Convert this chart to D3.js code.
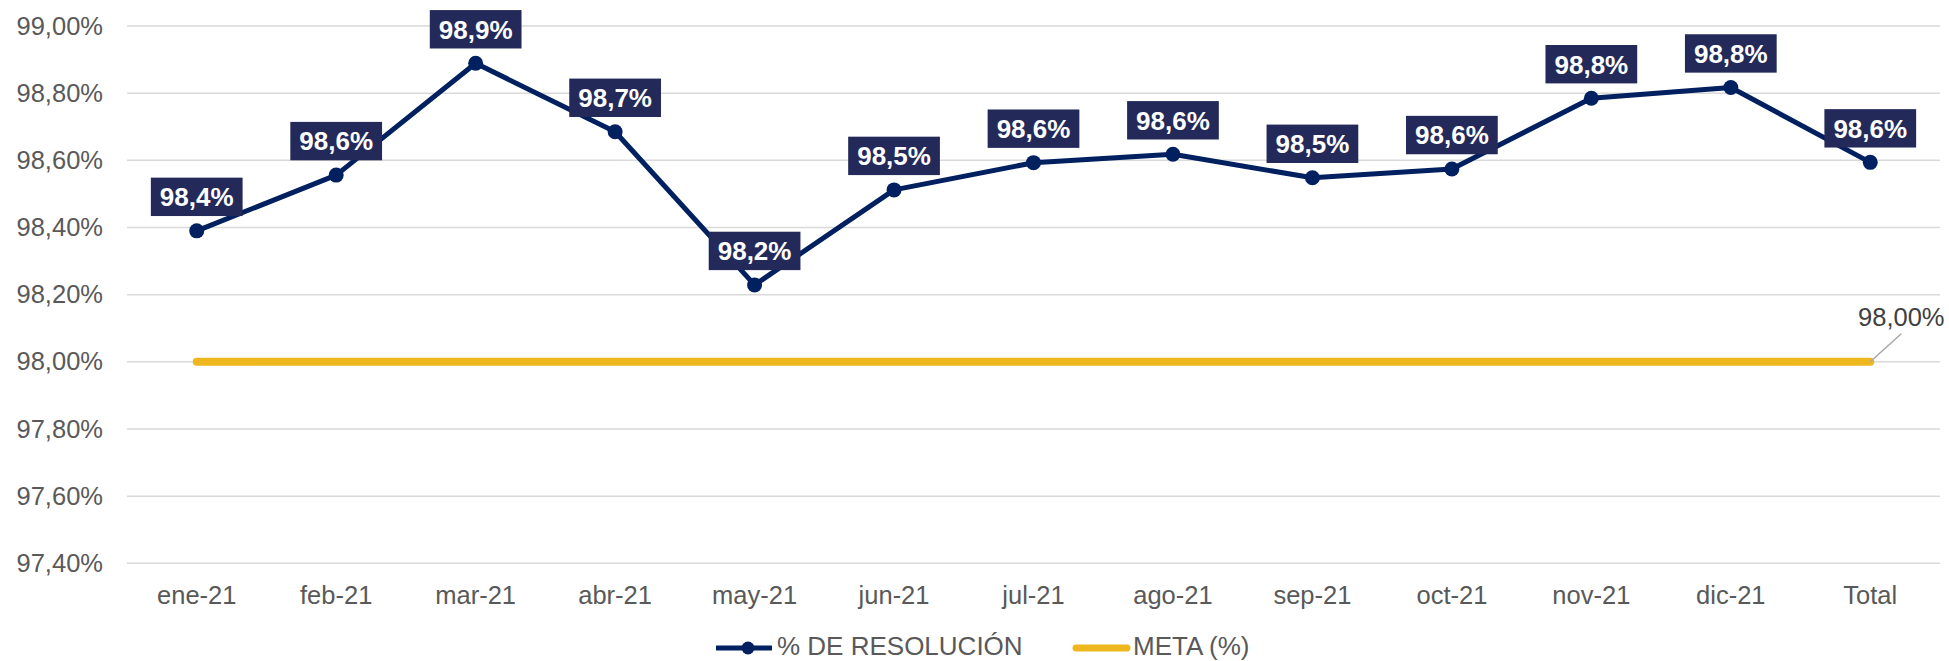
<!DOCTYPE html>
<html>
<head>
<meta charset="utf-8">
<script src="https://cdn.jsdelivr.net/npm/d3@7"></script>
<style>
  body { margin: 0; background: #fff; }
  svg text { font-family: "Liberation Sans", Arial, sans-serif; }
</style>
</head>
<body>
<script>
// categories and series
var months = ["ene-21", "feb-21", "mar-21", "abr-21", "may-21", "jun-21", "jul-21",
              "ago-21", "sep-21", "oct-21", "nov-21", "dic-21", "Total"];
var resolucion = [98.39, 98.556, 98.889, 98.685, 98.229, 98.512, 98.593,
                  98.618, 98.548, 98.574, 98.785, 98.817, 98.594];
var meta = [98, 98, 98, 98, 98, 98, 98, 98, 98, 98, 98, 98, 98];
var yTicks = [97.4, 97.6, 97.8, 98.0, 98.2, 98.4, 98.6, 98.8, 99.0];

var width = 1949, height = 661;

var svg = d3.select("body")
    .append("svg")
    .attr("width", width)
    .attr("height", height);

//scales
var x = d3.scaleBand()
    .domain(months)
    .range([127, 1940]);

var y = d3.scaleLinear()
    .domain([97.4, 99.0])
    .range([563.3, 26]);

var fmt2 = function(v){ return v.toFixed(2).replace(".", ",") + "%"; };
var fmt1 = function(v){ return v.toFixed(1).replace(".", ",") + "%"; };

//gridlines
svg.append("g")
    .selectAll("line")
    .data(yTicks)
    .enter()
    .append("line")
    .attr("x1", 127)
    .attr("x2", 1940)
    .attr("y1", function(d){ return y(d); })
    .attr("y2", function(d){ return y(d); })
    .attr("stroke", "#d9d9d9")
    .attr("stroke-width", 1.5);

//y axis
var yAxis = svg.append("g")
    .attr("transform", "translate(103,0)")
    .call(d3.axisLeft(y).tickValues(yTicks).tickFormat(fmt2).tickSize(0).tickPadding(0));
yAxis.select(".domain").remove();
yAxis.selectAll("text")
    .attr("font-size", "25.5px")
    .attr("fill", "#595959")
    .attr("font-family", "Liberation Sans, Arial, sans-serif");

//x axis
var xAxis = svg.append("g")
    .attr("transform", "translate(0,578)")
    .call(d3.axisBottom(x).tickSize(0).tickPadding(8));
xAxis.select(".domain").remove();
xAxis.selectAll("text")
    .attr("font-size", "25.5px")
    .attr("fill", "#595959")
    .attr("font-family", "Liberation Sans, Arial, sans-serif");

var cx = function(d, i){ return x(months[i]) + x.bandwidth() / 2; };

//meta line
var metaLine = d3.line()
    .x(function(d, i){ return cx(d, i); })
    .y(function(d){ return y(d); });

svg.append("path")
    .datum(meta)
    .attr("d", metaLine)
    .attr("fill", "none")
    .attr("stroke", "#efb71e")
    .attr("stroke-width", 8)
    .attr("stroke-linecap", "round");

//meta label at the end
var last = meta.length - 1;
var mx = cx(meta[last], last), my = y(meta[last]);
svg.append("line")
    .attr("x1", mx)
    .attr("y1", my)
    .attr("x2", mx + 31)
    .attr("y2", my - 28)
    .attr("stroke", "#a6a6a6")
    .attr("stroke-width", 1.5);
svg.append("text")
    .attr("x", mx + 31)
    .attr("y", my - 36)
    .attr("text-anchor", "middle")
    .attr("font-size", "25.5px")
    .attr("fill", "#404040")
    .text(fmt2(meta[last]));

//resolution line
svg.append("path")
    .datum(resolucion)
    .attr("d", metaLine)
    .attr("fill", "none")
    .attr("stroke", "#002060")
    .attr("stroke-width", 5)
    .attr("stroke-linejoin", "round");

svg.selectAll(".pt")
    .data(resolucion)
    .enter()
    .append("circle")
    .attr("class", "pt")
    .attr("cx", cx)
    .attr("cy", function(d){ return y(d); })
    .attr("r", 7.5)
    .attr("fill", "#002060");

//data labels
var labels = svg.selectAll(".lbl")
    .data(resolucion)
    .enter()
    .append("g")
    .attr("class", "lbl")
    .attr("transform", function(d, i){ return "translate(" + cx(d, i) + "," + (y(d) - 34) + ")"; });

labels.append("rect")
    .attr("fill", "#232a5a");

labels.append("text")
    .attr("text-anchor", "middle")
    .attr("dy", "0.36em")
    .attr("font-size", "26px")
    .attr("font-weight", "bold")
    .attr("fill", "#ffffff")
    .text(fmt1);

labels.each(function(){
    var g = d3.select(this);
    var w = g.select("text").node().getComputedTextLength() + 18;
    g.select("rect")
        .attr("x", -w / 2)
        .attr("y", -19.2)
        .attr("width", w)
        .attr("height", 38.4);
});

//legend
var legend = svg.append("g").attr("transform", "translate(0,648)");

legend.append("line")
    .attr("x1", 716).attr("x2", 772)
    .attr("stroke", "#002060").attr("stroke-width", 5);
legend.append("circle")
    .attr("cx", 748).attr("r", 6.5)
    .attr("fill", "#002060");
legend.append("text")
    .attr("x", 777).attr("y", 7)
    .attr("font-size", "26px").attr("fill", "#595959")
    .text("% DE RESOLUCIÓN");

legend.append("line")
    .attr("x1", 1076).attr("x2", 1127)
    .attr("stroke", "#efb71e").attr("stroke-width", 7)
    .attr("stroke-linecap", "round");
legend.append("text")
    .attr("x", 1133).attr("y", 7)
    .attr("font-size", "26px").attr("fill", "#595959")
    .text("META (%)");
</script>
</body>
</html>
